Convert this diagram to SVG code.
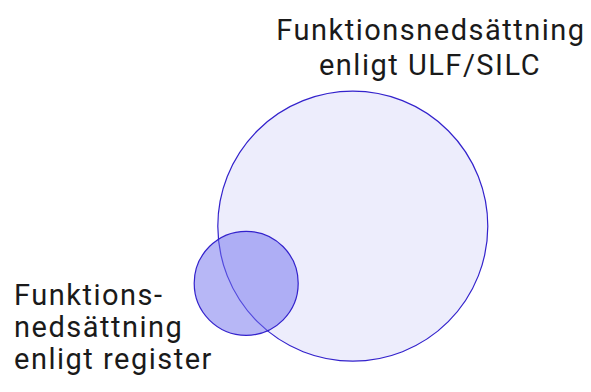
<svg xmlns="http://www.w3.org/2000/svg" width="591" height="392" viewBox="0 0 591 392">
<style>
.lbl{font-family:Roboto,"Liberation Sans",sans-serif;font-size:29px;letter-spacing:1.5px;fill:#1a1a1a}
.c{stroke:#3322cc;stroke-width:1.2}
</style>
<rect width="591" height="392" fill="#ffffff"/>
<g id="ulf">
<circle class="c" cx="352.8" cy="226.2" r="135" fill="#ededfc"/>
<text class="lbl" x="431" y="39.5" text-anchor="middle">Funktionsnedsättning</text>
<text class="lbl" x="430" y="74.5" text-anchor="middle">enligt ULF/SILC</text>
</g>
<g id="register">
<circle class="c" cx="246.2" cy="283.3" r="52" fill="#7070ee" fill-opacity="0.5"/>
<text class="lbl" x="14" y="305">Funktions-</text>
<text class="lbl" x="14" y="337">nedsättning</text>
<text class="lbl" x="14" y="369">enligt register</text>
</g>
</svg>
